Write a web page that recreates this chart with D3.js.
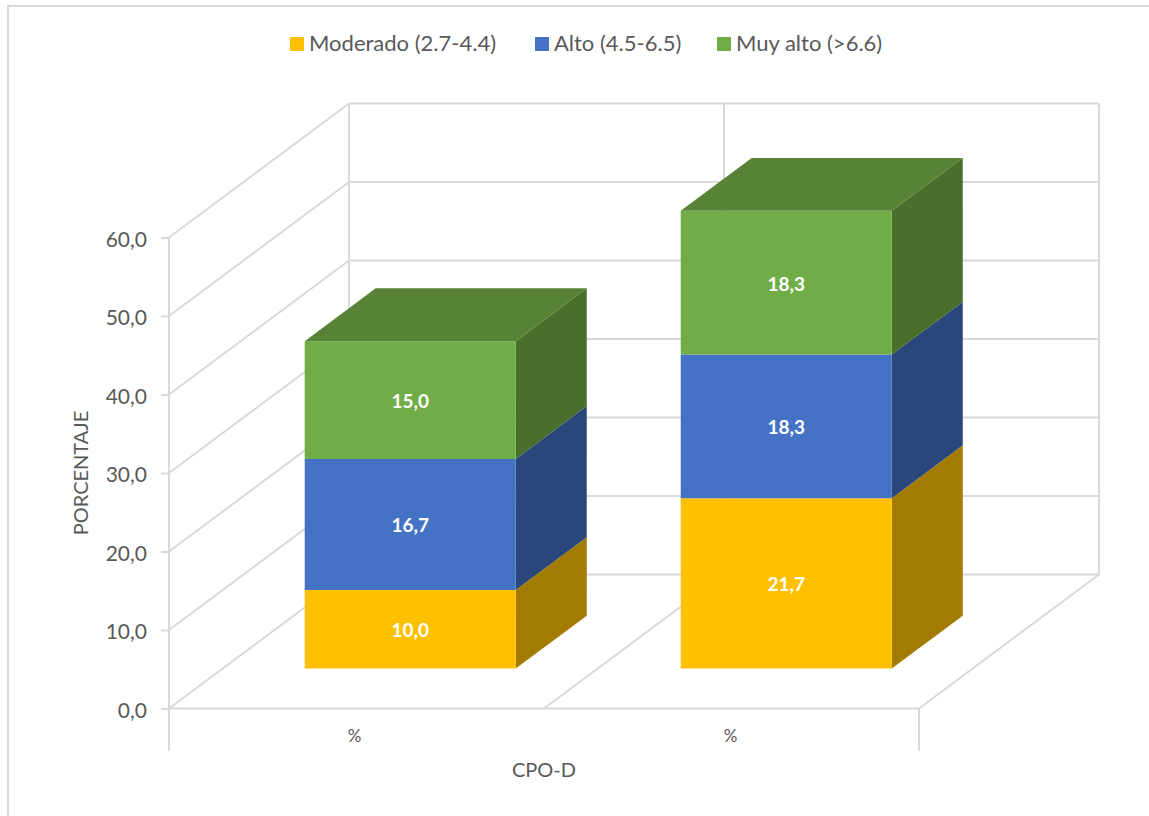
<!DOCTYPE html>
<html>
<head>
<meta charset="utf-8">
<script src="https://cdn.jsdelivr.net/npm/d3@7"></script>
<style>
  html, body { margin: 0; padding: 0; background: #fff; }
  text { font-family: Lato, "Open Sans", sans-serif; fill: #595959; }
</style>
</head>
<body>
<div id="chart"></div>
<script>
  const categories = ["%", "% "];
  const series_names = ["Moderado (2.7-4.4)", "Alto (4.5-6.5)", "Muy alto (>6.6)"];
  const moderado = [10.0, 21.7];
  const alto = [16.7, 18.3];
  const muy_alto = [15.0, 18.3];
  const y_ticks = [0, 10, 20, 30, 40, 50, 60];

  const front_colors = ["#ffc000", "#4472c4", "#70ad47"];
  const side_colors = ["#a37b00", "#2a477b", "#4a6f2b"];
  const top_color = "#588235";
  const grid_color = "#d9d9d9";

  const width = 1149, height = 816;

  let svg = d3.select("#chart").append("svg")
    .attr("width", width)
    .attr("height", height)
    .style("display", "block");

  // outer frame of the chart area, it runs off the right and bottom edges
  svg.append("path")
    .attr("d", `M8,${height}V6H${width}`)
    .attr("fill", "none")
    .attr("stroke", grid_color)
    .attr("stroke-width", 2);

  let x = d3.scaleBand().domain(categories).range([169, 920]).paddingInner(0.4388).paddingOuter(0.218);
  let y = d3.scaleLinear().domain([0, 60]).range([708.5, 237.5]);

  // depth goes from the front of the floor (0) to the back wall (1)
  let depth_x = d3.scaleLinear().domain([0, 1]).range([0, 180]);
  let depth_y = d3.scaleLinear().domain([0, 1]).range([0, -134]);
  let bar_depth = [0.2985, 0.693];

  // project a point of the box onto the page
  function project(px, value, d) {
    return [px + depth_x(d), y(value) + depth_y(d)];
  }

  let line = d3.line();

  function grid_line(g, a, b) {
    g.append("path")
      .attr("d", line([a, b]))
      .attr("fill", "none")
      .attr("stroke", grid_color)
      .attr("stroke-width", 2);
  }

  // walls and floor
  let grid = svg.append("g").attr("class", "grid");
  let x_min = 169, x_max = 919;
  let x_mid = (x_min + x_max) / 2;

  y_ticks.forEach((t) => {
    grid_line(grid, project(x_min, t, 0), project(x_min, t, 1));
    grid_line(grid, project(x_min, t, 1), project(x_max, t, 1));
  });
  grid_line(grid, project(x_min, 0, 1), project(x_min, 60, 1));
  grid_line(grid, project(x_mid, 0, 1), project(x_mid, 60, 1));
  grid_line(grid, project(x_max, 0, 1), project(x_max, 60, 1));
  grid_line(grid, project(x_min, 0, 0), project(x_max, 0, 0));
  grid_line(grid, project(x_mid, 0, 0), project(x_mid, 0, 1));
  grid_line(grid, project(x_max, 0, 0), project(x_max, 0, 1));
  grid_line(grid, [x_max, y(0)], [x_max, y(0) + 42]);

  // value axis
  let y_axis = d3.axisLeft(y)
    .tickValues(y_ticks)
    .tickFormat((d) => d3.format(".1f")(d).replace(".", ","))
    .tickSize(8)
    .tickPadding(14);

  let axis = svg.append("g").attr("transform", `translate(${x_min},0)`).call(y_axis);
  axis.select(".domain").remove();
  axis.selectAll("line").attr("stroke", grid_color).attr("stroke-width", 2);
  axis.selectAll("text").attr("font-size", 21).attr("dy", "0.42em");
  axis.attr("font-family", null);
  grid_line(svg, [x_min, y(60)], [x_min, y(0) + 42]);

  // stacked boxes
  let rows = categories.map((c, i) => ({
    category: c,
    [series_names[0]]: moderado[i],
    [series_names[1]]: alto[i],
    [series_names[2]]: muy_alto[i],
  }));
  let layers = d3.stack().keys(series_names)(rows);

  function face(g, points, color) {
    g.append("path")
      .attr("d", line(points) + "Z")
      .attr("fill", color);
  }

  let bars = svg.append("g").attr("class", "bars");
  let [d0, d1] = bar_depth;

  layers.forEach((layer, s) => {
    layer.forEach((seg) => {
      let left = x(seg.data.category);
      let right = left + x.bandwidth();
      let [v0, v1] = seg;
      let g = bars.append("g");

      face(g, [project(right, v0, d0), project(right, v0, d1), project(right, v1, d1), project(right, v1, d0)], side_colors[s]);
      face(g, [project(left, v0, d0), project(right, v0, d0), project(right, v1, d0), project(left, v1, d0)], front_colors[s]);

      // only the last series shows its lid
      if (s === layers.length - 1) {
        face(g, [project(left, v1, d0), project(right, v1, d0), project(right, v1, d1), project(left, v1, d1)], top_color);
      }

      let label_at = project((left + right) / 2, (v0 + v1) / 2, d0);
      g.append("text")
        .attr("x", label_at[0])
        .attr("y", label_at[1])
        .attr("dy", "0.42em")
        .attr("text-anchor", "middle")
        .attr("font-size", 19)
        .attr("font-weight", 700)
        .style("fill", "#fff")
        .text(d3.format(".1f")(v1 - v0).replace(".", ","));
    });
  });

  // category labels under the floor
  categories.forEach((c) => {
    svg.append("text")
      .attr("x", x(c) + x.bandwidth() / 2 - 2)
      .attr("y", 742)
      .attr("text-anchor", "middle")
      .attr("font-size", 17)
      .text(c.trim());
  });

  // axis titles
  svg.append("text")
    .attr("x", 544)
    .attr("y", 777)
    .attr("text-anchor", "middle")
    .attr("font-size", 20)
    .text("CPO-D");

  svg.append("text")
    .attr("transform", "translate(88,473) rotate(-90)")
    .attr("text-anchor", "middle")
    .attr("font-size", 20)
    .text("PORCENTAJE");

  // legend
  let legend_swatch_x = [290, 535, 717];
  let legend = svg.append("g").attr("class", "legend");
  series_names.forEach((name, i) => {
    legend.append("rect")
      .attr("x", legend_swatch_x[i])
      .attr("y", 37)
      .attr("width", 14)
      .attr("height", 14)
      .attr("fill", front_colors[i]);
    legend.append("text")
      .attr("x", legend_swatch_x[i] + 19)
      .attr("y", 51)
      .attr("font-size", 22)
      .text(name);
  });
</script>
</body>
</html>
